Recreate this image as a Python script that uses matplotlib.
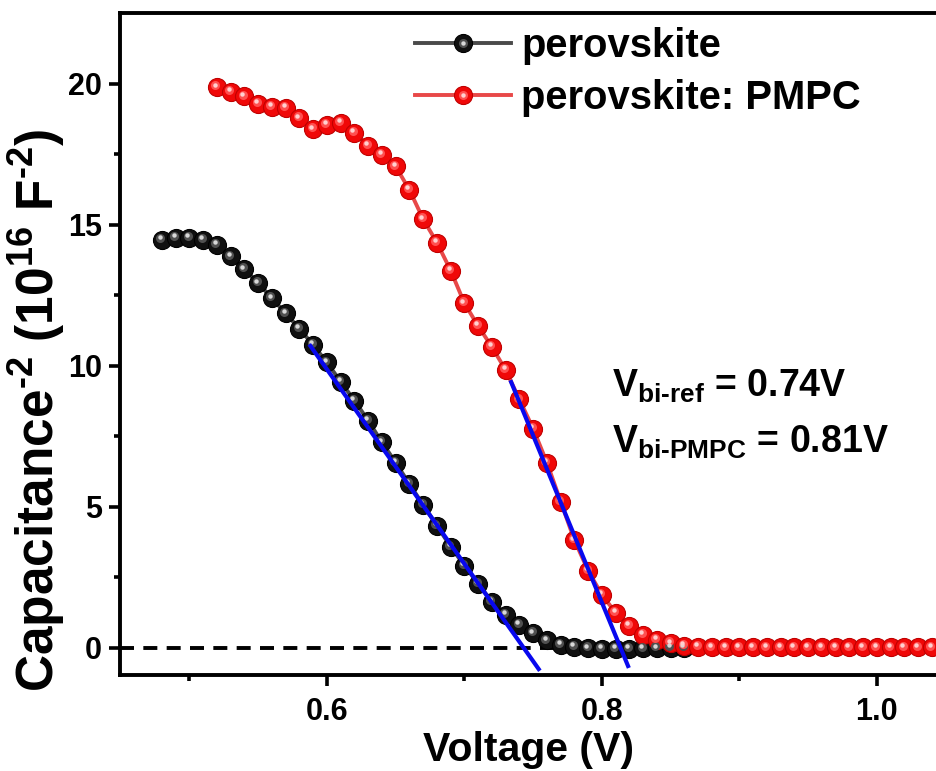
import numpy as np
import matplotlib
matplotlib.use("Agg")
import matplotlib.pyplot as plt
import matplotlib.transforms as mtransforms
from matplotlib.legend_handler import HandlerTuple

plt.rcParams['font.family'] = ['Liberation Sans', 'DejaVu Sans']
plt.rcParams['font.weight'] = 'bold'
plt.rcParams['mathtext.fontset'] = 'custom'
plt.rcParams['mathtext.rm'] = 'Liberation Sans:bold'
plt.rcParams['mathtext.bf'] = 'Liberation Sans:bold'
plt.rcParams['mathtext.it'] = 'Liberation Sans:bold'
plt.rcParams['mathtext.default'] = 'rm'

# ---- data ----
v_ref = [0.48, 0.49, 0.50, 0.51, 0.52, 0.53, 0.54, 0.55, 0.56, 0.57, 0.58, 0.59,
         0.60, 0.61, 0.62, 0.63, 0.64, 0.65, 0.66, 0.67, 0.68, 0.69, 0.70, 0.71,
         0.72, 0.73, 0.74, 0.75, 0.76, 0.77, 0.78, 0.79, 0.80, 0.81, 0.82, 0.83,
         0.84, 0.85, 0.86]
c_ref = [14.46, 14.54, 14.54, 14.46, 14.28, 13.87, 13.42, 12.92, 12.39, 11.85, 11.31, 10.73,
         10.11, 9.43, 8.76, 8.05, 7.28, 6.56, 5.80, 5.06, 4.32, 3.58, 2.91, 2.26,
         1.63, 1.16, 0.80, 0.51, 0.26, 0.10, 0.02, -0.02, -0.04, -0.05, -0.04, -0.03,
         -0.02, -0.01, 0.00]

v_pmpc = [0.52, 0.53, 0.54, 0.55, 0.56, 0.57, 0.58, 0.59, 0.60, 0.61, 0.62, 0.63,
          0.64, 0.65, 0.66, 0.67, 0.68, 0.69, 0.70, 0.71, 0.72, 0.73, 0.74, 0.75,
          0.76, 0.77, 0.78, 0.79, 0.80, 0.81, 0.82, 0.83, 0.84, 0.85, 0.86, 0.87,
          0.88, 0.89, 0.90, 0.91, 0.92, 0.93, 0.94, 0.95, 0.96, 0.97, 0.98, 0.99,
          1.00, 1.01, 1.02, 1.03, 1.04]
c_pmpc = [19.87, 19.70, 19.54, 19.28, 19.18, 19.13, 18.77, 18.38, 18.54, 18.60, 18.26, 17.79,
          17.47, 17.06, 16.23, 15.19, 14.36, 13.37, 12.21, 11.40, 10.66, 9.84, 8.80, 7.76,
          6.56, 5.18, 3.81, 2.73, 1.87, 1.24, 0.77, 0.45, 0.27, 0.16, 0.07, 0.03,
          0.01, 0.01, 0.01, 0.01, 0.01, 0.01, 0.01, 0.01, 0.01, 0.01, 0.01, 0.01,
          0.01, 0.01, 0.01, 0.01, 0.01]

# linear fits: (x start, x end, Vbi intercept, slope)
fit_ref = (0.588, 0.754, 0.743, -69.0)
fit_pmpc = (0.734, 0.819, 0.8135, -118.4)

labels = ['perovskite', 'perovskite: PMPC']
ann_ref = r'V$_{\text{bi-ref}}$ = 0.74V'
ann_pmpc = r'V$_{\text{bi-PMPC}}$ = 0.81V'

# ---- figure ----
W, H = 937, 771
fig = plt.figure(figsize=(W / 100, H / 100), dpi=100)
ax = fig.add_axes([120 / W, 96 / H, (W - 120) / W, (675 - 13) / H])
ax.set_xlim(0.4495, 1.0437)
ax.set_ylim(-0.97, 22.5)

ax.axhline(0, color='black', lw=2.8, ls=(0, (3.6, 2.4)), zorder=1)

def sphere_series(x, y, line_c, face_c, edge_c, mid_c, hi_c):
    ln, = ax.plot(x, y, '-', color=line_c, lw=2.8, marker='o', ms=13,
                  mfc=face_c, mec=edge_c, mew=0.8, zorder=3)
    tr1 = mtransforms.offset_copy(ax.transData, fig=fig, x=-1.5, y=1.8, units='dots')
    md, = ax.plot(x, y, ls='none', marker='o', ms=6.5, mfc=mid_c, mec='none',
                  transform=tr1, zorder=4)
    tr2 = mtransforms.offset_copy(ax.transData, fig=fig, x=-2.0, y=2.6, units='dots')
    hl, = ax.plot(x, y, ls='none', marker='o', ms=3.2, mfc=hi_c, mec='none',
                  transform=tr2, zorder=5)
    return ln, md, hl

l1 = sphere_series(v_ref, c_ref, '#4a4a4a', '#101010', '#000000', '#505050', '#d8d8d8')
l2 = sphere_series(v_pmpc, c_pmpc, '#e84848', '#f00808', '#c00000', '#ff5050', '#ffd0d0')

for (x0, x1, vb, k) in (fit_ref, fit_pmpc):
    xs = np.array([x0, x1])
    ax.plot(xs, k * (xs - vb), color='#0808ee', lw=3.0, zorder=6)

ax.spines['right'].set_visible(False)
for s in ('left', 'bottom', 'top'):
    ax.spines[s].set_linewidth(2.8)

ax.set_xticks([0.6, 0.8, 1.0])
ax.set_xticks([0.5, 0.7, 0.9], minor=True)
ax.set_xticklabels(['0.6', '0.8', '1.0'])
ax.set_yticks([0, 5, 10, 15, 20])
ax.set_yticks([2.5, 7.5, 12.5, 17.5], minor=True)
ax.tick_params(which='major', direction='out', length=8, width=2.6, labelsize=22, pad=5)
ax.tick_params(axis='x', which='major', pad=8)
ax.tick_params(which='minor', direction='out', length=4, width=2.6)
ax.tick_params(top=False, right=False)

ax.set_xlabel('Voltage (V)', fontsize=29.5, fontweight='bold', labelpad=3)
ax.set_ylabel(r'Capacitance$^{\text{-2}}$ (10$^{\text{16}}$ F$^{\text{-2}}$)',
              fontsize=37, fontweight='bold')
ax.yaxis.set_label_coords((67 - 120) / 817, 0.40)

leg = ax.legend([l1, l2], labels, handler_map={tuple: HandlerTuple(ndivide=1)},
                loc='upper left', bbox_to_anchor=(415 / W, 1 - 27 / H),
                bbox_transform=fig.transFigure, frameon=False, fontsize=28.8,
                handlelength=2.4, handletextpad=0.25, labelspacing=0.36,
                borderpad=0, borderaxespad=0, numpoints=1)
for t in leg.get_texts():
    t.set_fontweight('bold')

ax.text(612 / W, 1 - 397 / H, ann_ref, transform=fig.transFigure, fontsize=27,
        fontweight='bold', ha='left', va='baseline')
ax.text(612 / W, 1 - 453 / H, ann_pmpc, transform=fig.transFigure, fontsize=27,
        fontweight='bold', ha='left', va='baseline')

fig.savefig('out.png', dpi=100)
